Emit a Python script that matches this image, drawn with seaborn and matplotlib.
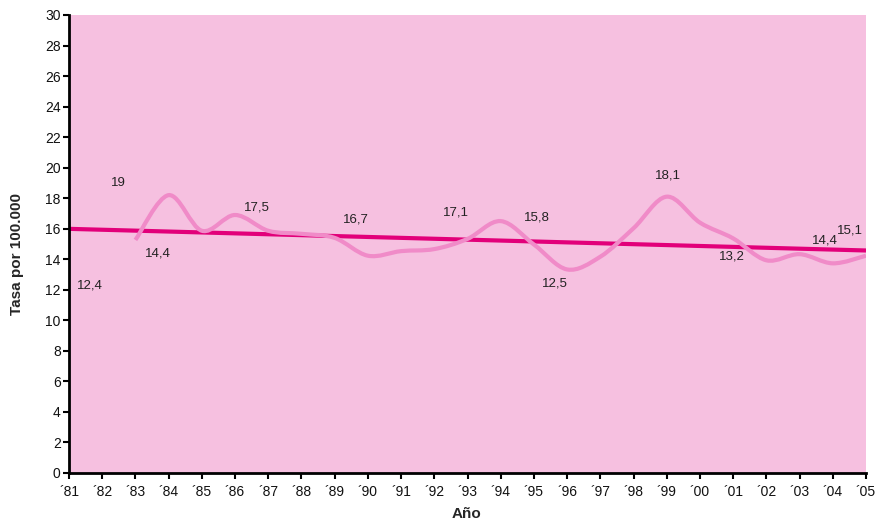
import numpy as np
import pandas as pd
import matplotlib
matplotlib.use("Agg")
import matplotlib.pyplot as plt
from matplotlib.path import Path
from matplotlib.patches import PathPatch
import seaborn as sns

# Annual rate per 100.000 inhabitants
years = list(range(1981, 2006))
tasa = [12.4, 19.0, 14.4, 21.2, 12.0, 17.5, 18.1, 11.4, 16.7, 14.6, 12.3, 17.1,
        16.6, 15.8, 12.5, 11.7, 18.3, 18.1, 17.9, 13.2, 15.0, 13.6, 14.4, 13.2, 15.1]
tick_labels = ["\u00b4%02d" % (y % 100) for y in years]
y_ticks = list(range(0, 31, 2))

# Years whose value is written on the chart, with the label offset in pixels
label_years = [1981, 1982, 1983, 1986, 1989, 1992, 1994, 1995, 1998, 2000, 2003, 2005]
label_dx = [8, 8.5, 9.5, 9, 8, 8.5, 23, 8, 21.5, 19, 12, -29]
label_dy = [-2, 0, 0, -1.5, -1, -1, 14, -1, 21.5, 15.4, 13, 12]

BG = "#F6C0E0"
MA_COLOR = "#F08BC8"
TREND_COLOR = "#E2007A"

sns.set_style("ticks")
plt.rcParams["font.family"] = ["Liberation Sans", "DejaVu Sans"]

df = pd.DataFrame({"year": years, "tasa": tasa})
df["media_movil"] = df["tasa"].rolling(3).mean()

fig = plt.figure(figsize=(8.79, 5.21), dpi=100)
ax = fig.add_axes([69 / 879, 1 - 473 / 521, (866 - 69) / 879, (473 - 15) / 521])
ax.set_facecolor(BG)

# Linear trend over the yearly values
sns.regplot(data=df, x="year", y="tasa", scatter=False, ci=None, truncate=True,
            line_kws=dict(color=TREND_COLOR, lw=3.0, solid_capstyle="butt"), ax=ax)

# 3-year moving average, drawn as a smoothed (Catmull-Rom Bezier) curve
ma = df.dropna(subset=["media_movil"])
pts = np.column_stack([ma["year"].to_numpy(float), ma["media_movil"].to_numpy()])
ext = np.vstack([pts[0], pts, pts[-1]])
verts = [tuple(pts[0])]
codes = [Path.MOVETO]
for i in range(len(pts) - 1):
    p0, p1, p2, p3 = ext[i], ext[i + 1], ext[i + 2], ext[i + 3]
    c1 = p1 + (p2 - p0) / 6.0
    c2 = p2 - (p3 - p1) / 6.0
    verts += [tuple(c1), tuple(c2), tuple(p2)]
    codes += [Path.CURVE4] * 3
ax.add_patch(PathPatch(Path(verts, codes), facecolor="none", edgecolor=MA_COLOR,
                       lw=3.0, capstyle="butt", zorder=3))

# Value labels
for yr, dx, dy in zip(label_years, label_dx, label_dy):
    v = df.loc[df["year"] == yr, "tasa"].iloc[0]
    txt = f"{v:g}".replace(".", ",")
    ax.annotate(txt, xy=(yr, v), xytext=(dx, dy), textcoords="offset pixels",
                ha="left", va="center", fontsize=9.5, color="#222222", zorder=4)

ax.set_xlim(1981, 2005)
ax.set_ylim(0, 30)
ax.set_xticks(years)
ax.set_xticklabels(tick_labels)
ax.set_yticks(y_ticks)
ax.tick_params(axis="both", direction="out", length=4, width=1.5, labelsize=10,
               colors="black", labelcolor="#111111", pad=2)
ax.tick_params(axis="x", pad=5)
for s in ["top", "right"]:
    ax.spines[s].set_visible(False)
for s in ["left", "bottom"]:
    ax.spines[s].set_linewidth(2)
    ax.spines[s].set_color("black")

ax.set_xlabel("Año", fontsize=11, fontweight="bold")
ax.set_ylabel("Tasa por 100.000", fontsize=11, fontweight="bold")
ax.xaxis.set_label_coords((466 - 69) / 797, (473 - 507) / 458)
ax.yaxis.set_label_coords((24 - 69) / 797, 0.5 + (244 - 254) / 458)

fig.savefig("out.png", dpi=100, facecolor="white")
